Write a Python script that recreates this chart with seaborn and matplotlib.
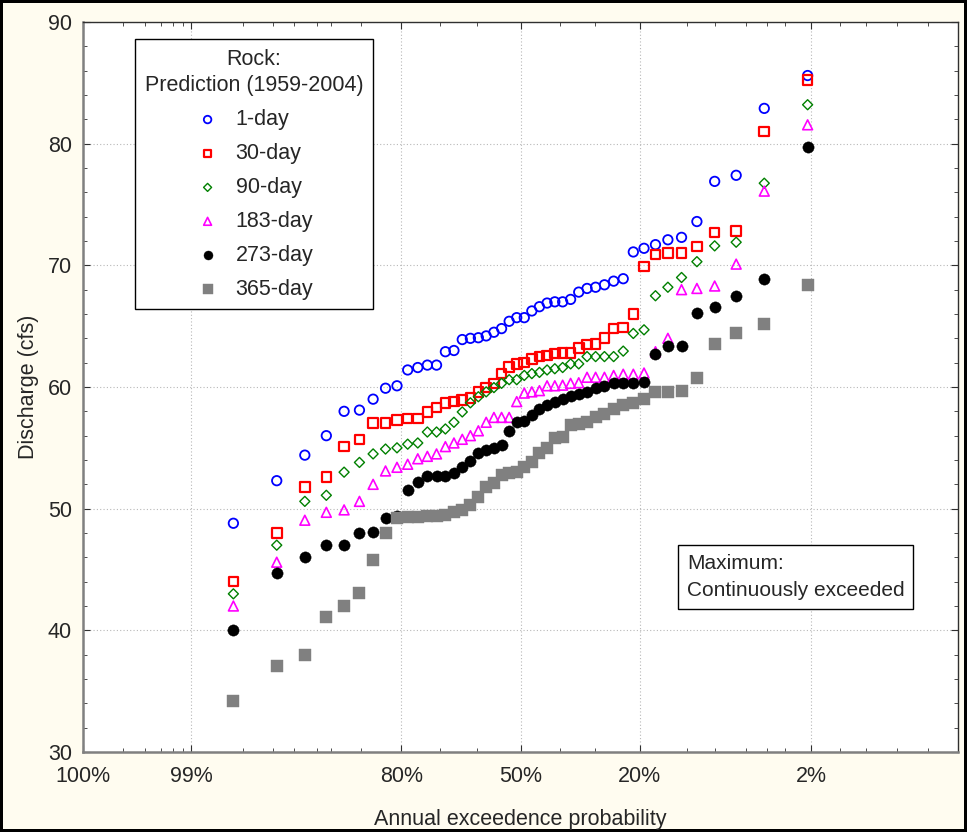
import numpy as np
import pandas as pd
import matplotlib
matplotlib.use("Agg")
import matplotlib.pyplot as plt
from matplotlib.ticker import FixedLocator, MultipleLocator, NullFormatter
import seaborn as sns
from statistics import NormalDist

# ---------------------------------------------------------------------------
# Rock: predicted annual minimum n-day flows, 1959-2004 (cfs), ranked low -> high
# ---------------------------------------------------------------------------
first_year, last_year = 1959, 2004

durations = ["1-day", "30-day", "90-day", "183-day", "273-day", "365-day"]

q_1day = [48.8, 52.3, 54.4, 56.0, 58.0, 58.1, 59.0, 59.9, 60.1, 61.4,
          61.6, 61.8, 61.8, 62.9, 63.0, 63.9, 64.0, 64.05, 64.2, 64.5,
          64.8, 65.4, 65.7, 65.7, 66.25, 66.6, 66.9, 67.0, 67.0, 67.2,
          67.8, 68.1, 68.2, 68.4, 68.7, 68.9, 71.1, 71.4, 71.7, 72.1,
          72.3, 73.6, 76.9, 77.4, 82.9, 85.6]
q_30day = [44.0, 48.0, 51.8, 52.6, 55.1, 55.7, 57.05, 57.05, 57.3, 57.4,
           57.4, 57.95, 58.3, 58.7, 58.8, 58.95, 59.1, 59.6, 59.95, 60.3,
           61.1, 61.65, 61.9, 62.0, 62.3, 62.5, 62.6, 62.75, 62.8, 62.8,
           63.2, 63.5, 63.55, 64.05, 64.8, 64.9, 66.0, 69.9, 70.9, 71.0,
           71.0, 71.55, 72.7, 72.8, 81.0, 85.25]
q_90day = [43.0, 47.0, 50.6, 51.1, 53.0, 53.8, 54.5, 54.9, 55.0, 55.3,
           55.4, 56.3, 56.3, 56.55, 57.1, 57.95, 58.7, 59.2, 59.6, 59.95,
           60.3, 60.6, 60.6, 60.95, 61.1, 61.2, 61.4, 61.5, 61.6, 61.9,
           61.9, 62.5, 62.5, 62.5, 62.5, 62.95, 64.4, 64.7, 67.5, 68.2,
           69.0, 70.3, 71.6, 71.9, 76.75, 83.2]
q_183day = [42.0, 45.6, 49.05, 49.7, 49.9, 50.6, 52.0, 53.1, 53.4, 53.65,
            54.1, 54.3, 54.5, 55.1, 55.4, 55.7, 56.0, 56.4, 57.1, 57.5,
            57.5, 57.5, 58.8, 59.5, 59.6, 59.7, 60.1, 60.1, 60.15, 60.3,
            60.35, 60.8, 60.8, 60.8, 60.95, 61.05, 61.05, 61.15, 62.9, 64.0,
            68.0, 68.1, 68.3, 70.1, 76.1, 81.55]
q_273day = [40.0, 44.7, 46.0, 47.0, 47.0, 48.0, 48.1, 49.2, 49.4, 51.5,
            52.2, 52.7, 52.7, 52.7, 52.9, 53.4, 53.9, 54.6, 54.8, 55.0,
            55.2, 56.4, 57.1, 57.2, 57.7, 58.2, 58.5, 58.75, 59.0, 59.3,
            59.4, 59.6, 59.9, 60.05, 60.3, 60.3, 60.3, 60.4, 62.7, 63.35,
            63.4, 66.1, 66.6, 67.5, 68.9, 79.7]
q_365day = [34.2, 37.1, 38.0, 41.1, 42.0, 43.1, 45.8, 48.0, 49.2, 49.3,
            49.3, 49.4, 49.4, 49.5, 49.7, 49.9, 50.3, 51.0, 51.8, 52.1,
            52.75, 52.9, 53.0, 53.4, 53.8, 54.55, 55.0, 55.8, 55.9, 56.9,
            57.0, 57.1, 57.5, 57.8, 58.2, 58.5, 58.7, 59.0, 59.6, 59.6,
            59.7, 60.7, 63.55, 64.4, 65.2, 68.4]

flows = [q_1day, q_30day, q_90day, q_183day, q_273day, q_365day]

# probability-axis ticks (annual exceedence, %)
major_prob = [99.9, 99.0, 80.0, 50.0, 20.0, 2.0]
major_prob_labels = ["100%", "99%", "80%", "50%", "20%", "2%"]
minor_prob = [99.75, 99.6, 99.45, 99.3, 99.15, 97.5, 96.0, 94.5, 92.5, 91.0,
              87.0, 71.5, 62.0, 39.0, 30.0, 12.0, 8.5, 5.6, 4.1, 3.1,
              1.2, 0.73, 0.39, 0.2]

# ---------------------------------------------------------------------------
# Weibull plotting positions: the k-th smallest of n values is exceeded with
# probability (n - k + 1) / (n + 1)
# ---------------------------------------------------------------------------
n_years = last_year - first_year + 1
rows = []
for name, vals in zip(durations, flows):
    n = len(vals)
    for k, q in enumerate(sorted(vals)):
        rows.append({"duration": name,
                     "exceed": 100.0 * (n - k) / (n + 1),
                     "discharge": q})
df = pd.DataFrame(rows)

# normal-probability scale for the exceedence axis
_nd = NormalDist()
_ppf = np.vectorize(_nd.inv_cdf, otypes=[float])
_cdf = np.vectorize(_nd.cdf, otypes=[float])


def prob_forward(p):
    p = np.clip(np.asarray(p, dtype=float), 1e-7, 100 - 1e-7)
    return _ppf(p / 100.0)


def prob_inverse(z):
    return 100.0 * _cdf(np.asarray(z, dtype=float))


# ---------------------------------------------------------------------------
sns.set_style("white", rc={"xtick.direction": "in", "ytick.direction": "in",
                           "xtick.top": True, "ytick.right": True,
                           "xtick.bottom": True, "ytick.left": True})
plt.rcParams["font.family"] = ["Liberation Sans", "DejaVu Sans"]
FS = 15.5

W, H = 967, 832
fig = plt.figure(figsize=(W / 100, H / 100), dpi=100,
                 facecolor="#fffcf0", edgecolor="black", linewidth=3)
L, R, T, B = 83, 958, 22, 752
ax = fig.add_axes([L / W, 1 - B / H, (R - L) / W, (B - T) / H])
ax.set_facecolor("white")
ax.set_xscale("function", functions=(prob_forward, prob_inverse))

styles = {
    "1-day":   dict(marker="o", s=46, facecolor="none", edgecolor="#0000ff", linewidth=1.3, color="#0000ff"),
    "30-day":  dict(marker="s", s=48, facecolor="none", edgecolor="#ff0000", linewidth=1.6, color="#ff0000"),
    "90-day":  dict(marker="D", s=26, facecolor="none", edgecolor="#008000", linewidth=1.0, color="#008000"),
    "183-day": dict(marker="^", s=50, facecolor="none", edgecolor="#ff00ff", linewidth=1.2, color="#ff00ff"),
    "273-day": dict(marker="o", s=66, facecolor="black", edgecolor="black", linewidth=0.3, color="black"),
    "365-day": dict(marker="s", s=66, facecolor="#808080", edgecolor="#808080", linewidth=0.3, color="#808080"),
}

for name in durations:
    sub = df[df["duration"] == name]
    sns.scatterplot(data=sub, x="exceed", y="discharge", ax=ax, label=name,
                    zorder=3, **styles[name])

# high exceedence on the left
ax.set_xlim(99.9, 0.1)
ax.set_ylim(30, 90)

ax.xaxis.set_major_locator(FixedLocator(major_prob))
ax.set_xticklabels(major_prob_labels)
ax.xaxis.set_minor_locator(FixedLocator(minor_prob))
ax.xaxis.set_minor_formatter(NullFormatter())
ax.yaxis.set_major_locator(MultipleLocator(10))
ax.yaxis.set_minor_locator(MultipleLocator(2))

ax.tick_params(which="major", length=5, width=0.8, color="#303030",
               labelsize=FS, pad=8)
ax.tick_params(which="minor", length=3, width=0.6, color="#303030")
ax.tick_params(axis="x", pad=10)

ax.grid(which="major", linestyle=(0, (1, 2)), color="#b8b8b8", linewidth=0.8)
ax.set_axisbelow(True)

for side in ("left", "bottom"):
    ax.spines[side].set_color("#808080")
    ax.spines[side].set_linewidth(1.8)
for side in ("top", "right"):
    ax.spines[side].set_color("#303030")
    ax.spines[side].set_linewidth(1.0)

ax.set_xlabel("Annual exceedence probability", fontsize=FS, labelpad=16)
ax.set_ylabel("Discharge (cfs)", fontsize=FS, labelpad=6)

leg = ax.legend(title="Rock:\nPrediction (1959-2004)", fontsize=FS,
                title_fontsize=FS, loc="upper left",
                bbox_to_anchor=((135 - L) / (R - L), (B - 39) / (B - T)),
                borderaxespad=0,
                frameon=True, fancybox=False, framealpha=1,
                edgecolor="black", borderpad=0.45, labelspacing=0.6,
                handletextpad=0.7, handlelength=1.2, markerscale=0.8,
                alignment="center")
leg.get_frame().set_linewidth(1.0)
leg.get_title().set_multialignment("center")
leg.get_title().set_linespacing(1.35)

ax.text((687 - L) / (R - L), (B - 577) / (B - T),
        "Maximum:\nContinuously exceeded", transform=ax.transAxes,
        fontsize=15, ha="left", va="center", linespacing=1.55,
        bbox=dict(boxstyle="square,pad=0.42", facecolor="white",
                  edgecolor="black", linewidth=1.0), zorder=5)

fig.savefig("out.png", dpi=100)
